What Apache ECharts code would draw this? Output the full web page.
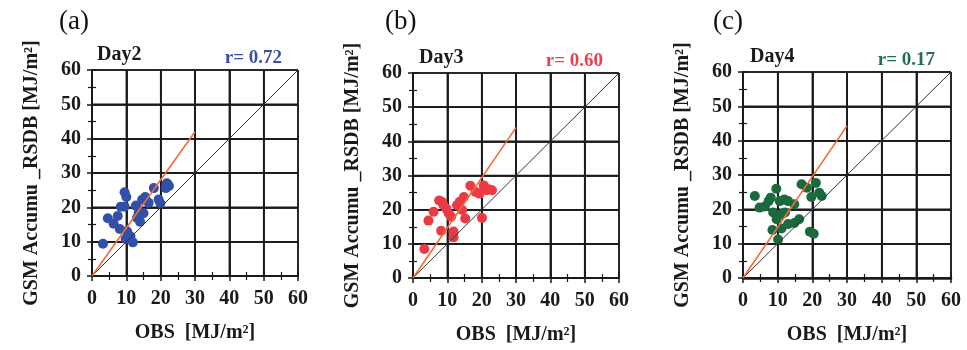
<!DOCTYPE html>
<html><head><meta charset="utf-8">
<script src="https://cdn.jsdelivr.net/npm/echarts@6/dist/echarts.min.js"></script>
<style>html,body{margin:0;padding:0;background:#fff}#c{width:967px;height:350px}</style>
</head><body><div id="c"></div>
<script>
// ---- data ----
const panelLabels = ['(a)', '(b)', '(c)'];
const dayTitles = ['Day2', 'Day3', 'Day4'];
const rTexts = ['r= 0.72', 'r= 0.60', 'r= 0.17'];
const axisTicks = [0, 10, 20, 30, 40, 50, 60];
const yTitle = 'GSM Accumu _RSDB [MJ/m²]';
const xTitle = 'OBS  [MJ/m²]';
const oneToOne = [[0, 0], [60, 60]];
const fitA = [[0, 0], [30, 42]];
const fitB = [[0, 0], [30, 44]];
const fitC = [[0, 0], [30, 44.3]];
const day2 = [[3.2,9.4],[4.6,16.8],[6.3,15.2],[7.5,17.5],[8.1,13.7],[8.4,20.2],[9.5,20.2],[9.5,24.4],[10.0,23.0],[10.2,13.0],[9.8,10.8],[11.2,11.6],[11.9,9.8],[12.8,20.5],[13.1,16.9],[14.0,15.8],[13.6,18.4],[15.0,18.3],[14.6,22.2],[15.5,23.0],[16.5,21.3],[18.0,25.6],[19.4,22.3],[19.9,21.2],[21.5,25.6],[21.8,27.0],[22.4,26.2],[22.0,26.8]];
const day3 = [[3.3,8.5],[4.5,16.8],[6.0,19.4],[7.6,22.7],[8.4,22.3],[8.2,13.8],[8.9,21.3],[9.7,20.3],[10.4,18.9],[11.1,17.9],[11.8,13.6],[11.8,11.9],[12.8,21.3],[13.6,22.3],[14.3,19.9],[14.8,23.7],[15.2,17.4],[16.7,27.0],[18.2,25.2],[19.4,24.7],[20.1,17.6],[20.6,27.1],[21.4,25.7],[22.0,26.0],[23.0,25.7]];
const day4 = [[3.4,23.9],[4.8,20.5],[6.3,20.8],[7.4,22.4],[8.0,23.4],[9.6,26.0],[8.7,19.1],[10.6,22.4],[11.9,22.9],[13.0,22.4],[14.8,21.5],[11.1,18.6],[12.1,19.1],[9.7,17.1],[8.5,14.0],[11.1,14.4],[10.1,11.2],[13.0,15.7],[14.8,16.0],[16.2,17.1],[16.9,27.3],[18.4,26.3],[21.0,27.7],[19.7,23.6],[22.0,24.8],[22.7,23.9],[19.3,13.5],[20.4,12.9]];

const scatterData = [day2, day3, day4];
const fitData = [fitA, fitB, fitC];
const dotColors = ['#3350a8', '#ec3a45', '#1a6a3e'];
const rColors = ['#3b4da6', '#ee3f4c', '#1f7050'];

// ---- layout ----
const W = 967;
const serif = "'Liberation Serif', 'Times New Roman', serif";
const grids = [
  {left: 92, top: 70, width: 206, height: 206},
  {left: 413, top: 73, width: 206, height: 206},
  {left: 743, top: 72, width: 208, height: 207}
];
const panelX = [[59, 97, 282], [385, 419, 603], [713, 750, 935]];

const xAxes = [], yAxes = [], series = [], titles = [];
const lineDark = '#1a1a1a';
const nameStyle = {fontFamily: serif, fontWeight: 'bold', fontSize: 20, color: '#1a1a1a'};
const tMin = axisTicks[0], tMax = axisTicks[axisTicks.length - 1];
const innerTicks = axisTicks.slice(1, -1);

grids.forEach((g, i) => {
  const common = () => ({
    gridIndex: i, type: 'value', min: tMin, max: tMax, interval: 10,
    axisLine: {show: true, lineStyle: {color: lineDark, width: 1.5}},
    axisTick: {show: true, inside: false, length: 5, lineStyle: {color: lineDark, width: 1.5}},
    minorTick: {show: true, splitNumber: 2, length: 4, lineStyle: {color: lineDark, width: 1.2}},
    splitLine: {show: true, lineStyle: {color: lineDark, width: 1.5}},
    axisLabel: {show: false}
  });
  const lab = (m) => ({show: true, margin: m, fontFamily: serif, fontWeight: 'bold', fontSize: 20, color: '#1a1a1a'});
  xAxes.push(Object.assign(common(), {
    position: 'bottom', axisLabel: lab(13),
    name: xTitle, nameLocation: 'middle', nameGap: 47, nameTextStyle: nameStyle
  }));
  const top = Object.assign(common(), {position: 'top'});
  if (i === 2) top.axisLine.lineStyle.width = 2.5;
  xAxes.push(top);
  yAxes.push(Object.assign(common(), {
    position: 'left', axisLabel: lab(11),
    name: yTitle, nameLocation: 'middle', nameRotate: 90, nameGap: 50, nameTextStyle: nameStyle
  }));
  yAxes.push(Object.assign(common(), {position: 'right'}));

  // major grid lines at the tick values, drawn through the axes' scales
  innerTicks.forEach(v => {
    [[[v, tMin], [v, tMax]], [[tMin, v], [tMax, v]]].forEach(seg => {
      series.push({
        type: 'line', xAxisIndex: i * 2, yAxisIndex: i * 2, data: seg,
        symbol: 'none', silent: true, z: 1,
        lineStyle: {color: lineDark, width: 1.5}
      });
    });
  });

  series.push({
    type: 'scatter', xAxisIndex: i * 2, yAxisIndex: i * 2, data: scatterData[i],
    symbolSize: 10, itemStyle: {color: dotColors[i], opacity: 1}, z: 3, silent: true
  });
  series.push({
    type: 'line', xAxisIndex: i * 2, yAxisIndex: i * 2, data: oneToOne,
    symbol: 'none', lineStyle: {color: '#333', width: 1}, z: 4, silent: true
  });
  series.push({
    type: 'line', xAxisIndex: i * 2, yAxisIndex: i * 2, data: fitData[i],
    symbol: 'none', lineStyle: {color: '#f26b3a', width: 1.6}, z: 5, silent: true
  });

  titles.push({text: panelLabels[i], left: panelX[i][0], top: 7, padding: 0,
    textStyle: {fontFamily: serif, fontWeight: 'normal', fontSize: 27, lineHeight: 30, color: '#111'}});
  titles.push({text: dayTitles[i], left: panelX[i][1], top: g.top - 26, padding: 0,
    textStyle: {fontFamily: serif, fontWeight: 'bold', fontSize: 20, lineHeight: 22, color: '#1a1a1a'}});
  titles.push({text: rTexts[i], right: W - panelX[i][2], top: g.top - 22, padding: 0,
    textStyle: {fontFamily: serif, fontWeight: 'bold', fontSize: 19, lineHeight: 20, color: rColors[i]}});
});

const chart = echarts.init(document.getElementById('c'));
chart.setOption({
  animation: false,
  backgroundColor: '#fff',
  title: titles,
  grid: grids,
  xAxis: xAxes,
  yAxis: yAxes,
  series: series
});
</script></body></html>
